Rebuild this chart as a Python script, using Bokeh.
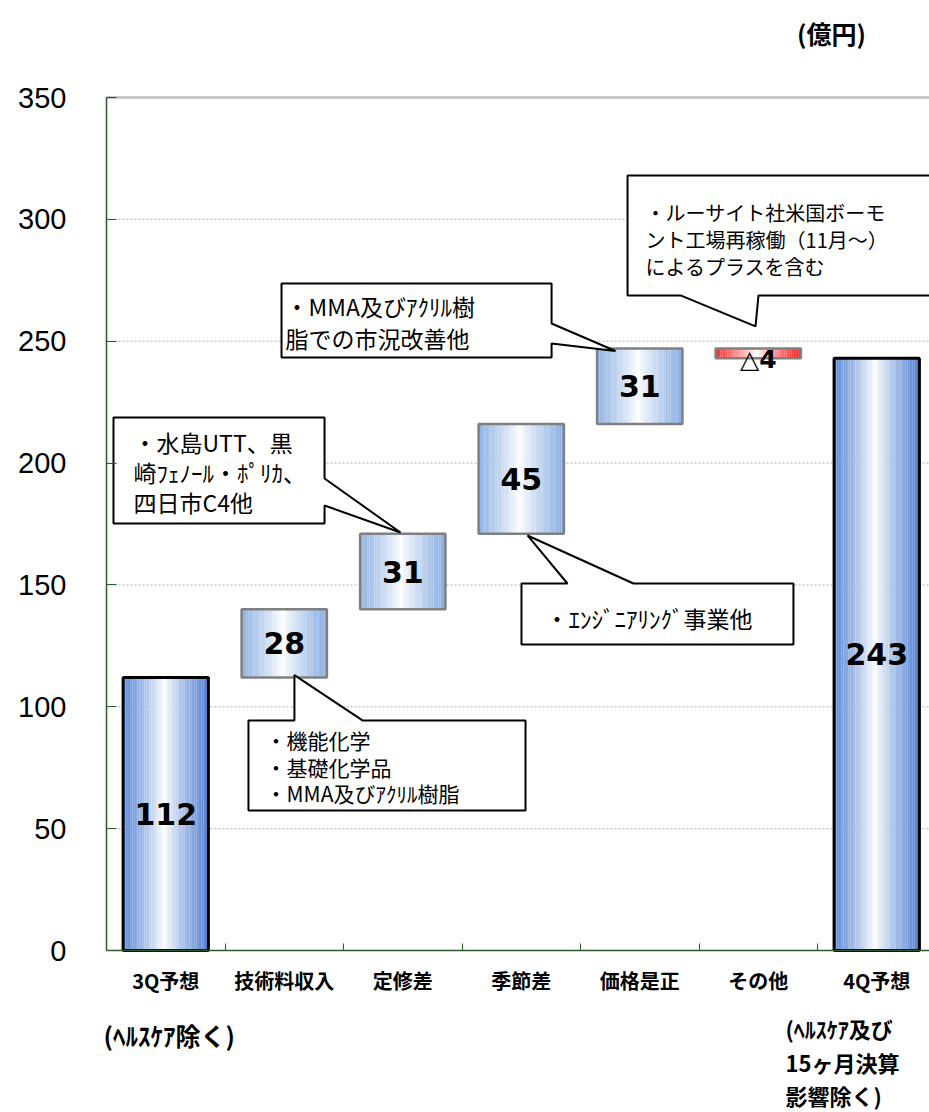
import numpy as np
from bokeh.plotting import figure
from bokeh.models import FixedTicker, Label, ColumnDataSource, Range1d
from bokeh.core.properties import value
from bokeh.embed import file_html
from bokeh.resources import INLINE

# ---------------- data ----------------
categories = ["3Q予想", "技術料収入", "定修差", "季節差", "価格是正", "その他", "4Q予想"]
changes = [112, 28, 31, 45, 31, -4, 243]
is_total = [True, False, False, False, False, False, True]
y_ticks = [0, 50, 100, 150, 200, 250, 300, 350]
unit_label = "(億円)"
note_3q = ["(ﾍﾙｽｹｱ除く)"]
note_4q = ["(ﾍﾙｽｹｱ及び", "15ヶ月決算", "影響除く)"]

callout_A = ["・機能化学", "・基礎化学品", "・MMA及びｱｸﾘﾙ樹脂"]
callout_B = ["・水島UTT、黒", "崎ﾌｪﾉｰﾙ・ﾎﾟﾘｶ、", "四日市C4他"]
callout_C = ["・MMA及びｱｸﾘﾙ樹", "脂での市況改善他"]
callout_D = ["・ルーサイト社米国ボーモ", "ント工場再稼働（11月～）", "によるプラスを含む"]
callout_E = ["・ｴﾝｼﾞﾆｱﾘﾝｸﾞ事業他"]

# ---------------- derived bar geometry ----------------
bottoms, tops = [], []
running = 0
for c, tot in zip(changes, is_total):
    if tot:
        b, t = 0, c
        running = c
    else:
        b, t = (running, running + c) if c >= 0 else (running + c, running)
        running += c
    bottoms.append(b)
    tops.append(t)

BAR_W = 0.72
N_STRIPS = 36
EDGE_TOTAL = (86, 132, 212)
EDGE_STEP = (138, 175, 226)
EDGE_NEG = (255, 36, 36)


def blend(edge, s):
    return "#%02x%02x%02x" % tuple(int(round(255 + (e - 255) * s)) for e in edge)


strips = dict(left=[], right=[], bottom=[], top=[], color=[])
for i, (c, tot, b, t) in enumerate(zip(changes, is_total, bottoms, tops)):
    edge = EDGE_TOTAL if tot else (EDGE_STEP if c >= 0 else EDGE_NEG)
    x0 = i - BAR_W / 2
    dw = BAR_W / N_STRIPS
    for j in range(N_STRIPS):
        tt = (j + 0.5) / N_STRIPS
        s = min(1.0, abs(tt - 0.48) / 0.5) ** 0.85
        strips["left"].append(x0 + j * dw)
        strips["right"].append(x0 + (j + 1) * dw + 1e-4)
        strips["bottom"].append(b)
        strips["top"].append(t)
        strips["color"].append(blend(edge, s))

# ---------------- figure (frame fills the whole canvas) ----------------
W, H = 929, 1112
PX_PER_CAT = 118.5          # pixels per category
PX_PER_UNIT = 2.437         # pixels per 億円
AXIS_X_PX, AXIS_Y_PX = 106, 950
x_start = -0.5 - AXIS_X_PX / PX_PER_CAT
x_end = -0.5 + (W - AXIS_X_PX) / PX_PER_CAT
y_start = (AXIS_Y_PX - H) / PX_PER_UNIT
y_end = AXIS_Y_PX / PX_PER_UNIT

p = figure(width=W, height=H,
           x_range=Range1d(x_start, x_end), y_range=Range1d(y_start, y_end),
           output_backend="svg", toolbar_location=None,
           min_border_left=0, min_border_right=0,
           min_border_top=0, min_border_bottom=0)
p.outline_line_color = None
p.background_fill_color = "white"
p.border_fill_color = "white"
p.xgrid.visible = False
p.ygrid.visible = False

AXIS_GREEN = "#2f5a2f"

# grid lines (only over the plotting region)
p.segment(x0=[-0.5] * (len(y_ticks) - 2), x1=[x_end + 1] * (len(y_ticks) - 2),
          y0=y_ticks[1:-1], y1=y_ticks[1:-1],
          line_color="#b0b0b0", line_dash="2 2", line_width=1)
p.segment(x0=[-0.5], x1=[x_end + 1], y0=[y_ticks[-1]], y1=[y_ticks[-1]],
          line_color="#c8c8c8", line_width=3)

# x axis
xa = p.xaxis[0]
xa.fixed_location = 0
xa.bounds = (-0.5, x_end + 1)
xa.ticker = FixedTicker(ticks=list(range(len(categories))),
                        minor_ticks=[i + 0.5 for i in range(len(categories) - 1)])
xa.major_label_overrides = {i: c for i, c in enumerate(categories)}
xa.major_tick_in = 0
xa.major_tick_out = 0
xa.minor_tick_in = 7
xa.minor_tick_out = 0
xa.minor_tick_line_color = AXIS_GREEN
xa.axis_line_color = AXIS_GREEN
xa.axis_line_width = 1.5
xa.major_label_standoff = 15
xa.major_label_text_font = "Noto Sans CJK JP"
xa.major_label_text_font_style = "bold"
xa.major_label_text_font_size = "20px"
xa.major_label_text_color = "black"

# y axis
ya = p.yaxis[0]
ya.fixed_location = -0.5
ya.bounds = (y_ticks[0], y_ticks[-1])
ya.ticker = FixedTicker(ticks=y_ticks)
ya.major_tick_in = 10
ya.major_tick_out = 0
ya.minor_tick_line_color = None
ya.major_tick_line_color = AXIS_GREEN
ya.axis_line_color = AXIS_GREEN
ya.axis_line_width = 1.5
ya.major_label_standoff = 40
ya.major_label_text_font = "Liberation Sans"
ya.major_label_text_font_size = "29px"
ya.major_label_text_color = "black"

# bars (gradient strips + outlines)
p.quad(left="left", right="right", bottom="bottom", top="top",
       fill_color="color", line_color=None, source=ColumnDataSource(strips))

xs = list(range(len(categories)))
outline_color = ["black" if tot else "#808080" for tot in is_total]
outline_width = [3 if tot else 2.5 for tot in is_total]
p.quad(left=[x - BAR_W / 2 for x in xs], right=[x + BAR_W / 2 for x in xs],
       bottom=bottoms, top=tops, fill_color=None,
       line_color=outline_color, line_width=outline_width)

# ---------------- callouts (annotation layout, data units) ----------------
def balloon(box, side, base, tip):
    x0, x1, y0, y1 = box
    if side == "top":
        return [x0, base[0], tip[0], base[1], x1, x1, x0], [y1, y1, tip[1], y1, y1, y0, y0]
    if side == "right":
        return [x0, x1, x1, tip[0], x1, x1, x0], [y1, y1, base[0], tip[1], base[1], y0, y0]
    if side == "bottom":
        return [x0, x1, x1, base[1], tip[0], base[0], x0], [y1, y1, y0, y0, tip[1], y0, y0]


callouts = [
    dict(box=(0.698, 3.036, 57.4, 94.4), side="top", base=(1.086, 1.660),
         tip=(1.086, bottoms[1] + 1), lines=callout_A, tx=0.842,
         ty=[86.2, 75.5, 64.8], size="21px"),
    dict(box=(-0.441, 1.340, 175.2, 218.7), side="right", base=(193.7, 182.6),
         tip=(1.981, tops[2] + 0.5), lines=callout_B, tx=-0.272,
         ty=[208.5, 196.2, 183.9], size="23px"),
    dict(box=(0.977, 3.256, 243.3, 273.7), side="right", base=(257.3, 249.1),
         tip=(3.795, tops[4] - 1), lines=callout_C, tx=1.011,
         ty=[264.3, 251.5], size="23px"),
    dict(box=(3.897, x_end + 1, 268.8, 318.0), side="bottom", base=(4.344, 5.002),
         tip=(4.977, 256.1), lines=callout_D, tx=4.049,
         ty=[302.8, 291.8, 280.7], size="20px"),
    dict(box=(3.002, 5.297, 125.6, 150.6), side="top", base=(3.390, 3.947),
         tip=(3.053, bottoms[3] - 0.7), lines=callout_E, tx=3.205,
         ty=[136.6], size="23px"),
]

bx, by = [], []
for co in callouts:
    px_, py_ = balloon(co["box"], co["side"], co["base"], co["tip"])
    bx.append(px_)
    by.append(py_)
p.patches(xs=bx, ys=by, fill_color="white", line_color="black", line_width=2)

for co in callouts:
    p.text(x=[co["tx"]] * len(co["lines"]), y=co["ty"], text=co["lines"],
           text_font=value("Noto Sans CJK JP"), text_font_size=co["size"],
           text_color="black", text_align="left", text_baseline="middle")

# ---------------- value labels ----------------
lab_x, lab_y, lab_t = [], [], []
neg_x, neg_y, neg_t = [], [], []
for i, (c, b, t) in enumerate(zip(changes, bottoms, tops)):
    if c < 0:
        neg_x.append(i)
        neg_y.append(b - 0.5)
        neg_t.append("△" + str(abs(c)))
    else:
        lab_x.append(i)
        lab_y.append((b + t) / 2)
        lab_t.append(str(c))

p.text(x=lab_x, y=lab_y, text=lab_t, text_font=value("DejaVu Sans"),
       text_font_style="bold", text_font_size="30px", text_color="black",
       text_align="center", text_baseline="middle")
p.text(x=neg_x, y=neg_y, text=neg_t, text_font=value("DejaVu Sans"),
       text_font_style="bold", text_font_size="25px", text_color="black",
       text_align="center", text_baseline="middle")

# ---------------- outside labels ----------------
p.add_layout(Label(x=5.618, y=376.3, text=unit_label, text_font="Noto Sans CJK JP",
                   text_font_style="bold", text_font_size="25px", text_color="black",
                   text_align="center", text_baseline="middle"))
p.add_layout(Label(x=-0.525, y=-34.5, text=note_3q[0], text_font="Noto Sans CJK JP",
                   text_font_style="bold", text_font_size="25px", text_color="black",
                   text_align="left", text_baseline="middle"))
for k, line in enumerate(note_4q):
    p.add_layout(Label(x=5.23, y=-32.0 - k * 13.6, text=line, text_font="Noto Sans CJK JP",
                       text_font_style="bold", text_font_size="22px", text_color="black",
                       text_align="left", text_baseline="middle"))

open("out.html", "w").write(file_html(p, INLINE))
